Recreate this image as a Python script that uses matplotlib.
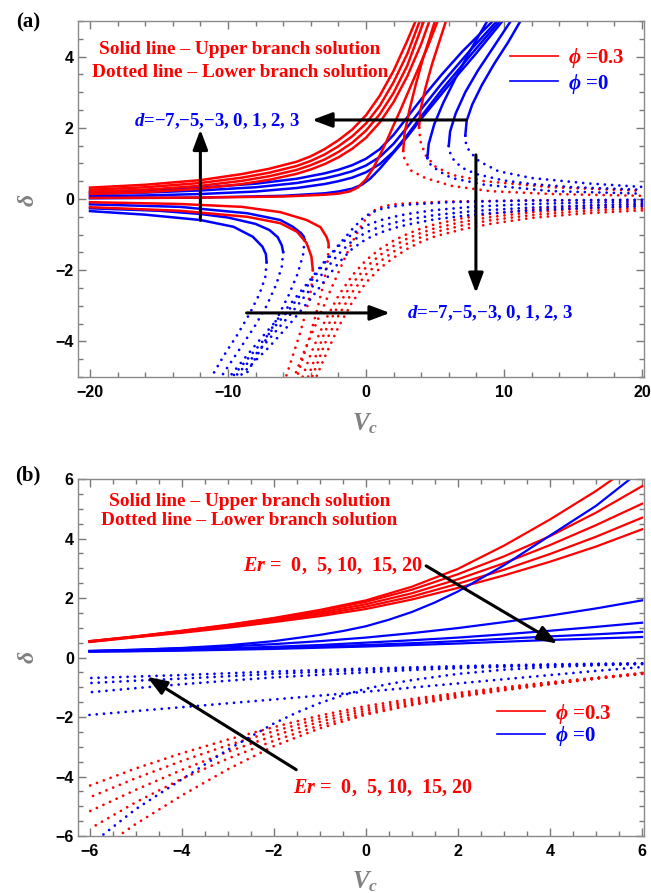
import matplotlib
matplotlib.use('Agg')
import matplotlib.pyplot as plt
from matplotlib.lines import Line2D
from matplotlib.ticker import MultipleLocator

plt.rcParams['font.family'] = ['Liberation Serif', 'DejaVu Serif']
plt.rcParams['mathtext.fontset'] = 'custom'
plt.rcParams['mathtext.rm'] = 'Liberation Serif:bold'
plt.rcParams['mathtext.it'] = 'Liberation Serif:italic:bold'
plt.rcParams['mathtext.bf'] = 'Liberation Serif:bold'

RED = '#ff0000'
BLUE = '#0000ff'

# ---------------- panel (a) data : delta vs Vc ----------------
a_xticks = [-20, -10, 0, 10, 20]
a_xlabels = ['\u221220', '\u221210', '0', '10', '20']
a_yticks = [-4, -2, 0, 2, 4]
a_ylabels = ['\u22124', '\u22122', '0', '2', '4']

# blue (phi=0), no turning point: upper (solid) and lower (dotted)
a_b0_x = [-20, -16, -12, -8, -5, -3, -2, -1, 0, 1, 2, 3, 4, 5.5, 7, 9.2]
a_b0_y = [0.2, 0.25, 0.32, 0.43, 0.57, 0.72, 0.82, 0.95, 1.13, 1.4, 1.8, 2.3, 2.8, 3.5, 4.15, 5.0]
a_b1_x = [-20, -16, -12, -8, -5, -3, -2, -1, 0, 1, 2, 3, 4, 5.5, 7.5, 9.5]
a_b1_y = [0.14, 0.18, 0.24, 0.33, 0.45, 0.58, 0.67, 0.78, 0.94, 1.18, 1.55, 2.02, 2.52, 3.25, 4.15, 5.0]
a_b2_x = [-20, -16, -12, -8, -5, -3, -2, -1, 0, 1, 2, 3, 4, 5.5, 7.6, 9.7]
a_b2_y = [0.08, 0.1, 0.14, 0.21, 0.31, 0.42, 0.5, 0.6, 0.75, 0.98, 1.33, 1.8, 2.32, 3.07, 4.05, 5.0]
a_b3_x = [-20, -12, -6, -3, -2, -1, -0.3, 0.3, 1, 2, 3, 4, 5.8, 7.9, 9.9]
a_b3_y = [0.02, 0.04, 0.09, 0.16, 0.21, 0.29, 0.4, 0.57, 0.85, 1.3, 1.75, 2.25, 3.1, 4.05, 5.0]

a_b0d_x = [20, 16, 12, 8, 5, 3, 2, 1, 0, -1, -2, -3, -4, -5.5, -7, -9.2]
a_b0d_y = [-0.2, -0.25, -0.32, -0.43, -0.57, -0.72, -0.82, -0.95, -1.13, -1.4, -1.8, -2.3, -2.8, -3.5, -4.15, -5.0]
a_b1d_x = [20, 16, 12, 8, 5, 3, 2, 1, 0, -1, -2, -3, -4, -5.5, -7.5, -9.5]
a_b1d_y = [-0.14, -0.18, -0.24, -0.33, -0.45, -0.58, -0.67, -0.78, -0.94, -1.18, -1.55, -2.02, -2.52, -3.25, -4.15, -5.0]
a_b2d_x = [20, 16, 12, 8, 5, 3, 2, 1, 0, -1, -2, -3, -4, -5.5, -7.6, -9.7]
a_b2d_y = [-0.08, -0.1, -0.14, -0.21, -0.31, -0.42, -0.5, -0.6, -0.75, -0.98, -1.33, -1.8, -2.32, -3.07, -4.05, -5.0]
a_b3d_x = [20, 12, 6, 3, 2, 1, 0.3, -0.3, -1, -2, -3, -4, -5.8, -7.9, -9.9]
a_b3d_y = [-0.02, -0.04, -0.09, -0.16, -0.21, -0.29, -0.4, -0.57, -0.85, -1.3, -1.75, -2.25, -3.1, -4.05, -5.0]

# blue, with turning points (left part and right part)
a_bt0_ls_x = [-20, -13.5, -8.6, -6.2, -5.3, -4.7, -4.5, -4.45]
a_bt0_ls_y = [-0.15, -0.22, -0.4, -0.59, -0.78, -0.96, -1.06, -1.15]
a_bt0_ld_x = [-4.45, -4.55, -4.95, -5.6, -6.5, -7.6, -8.8]
a_bt0_ld_y = [-1.15, -1.55, -2.1, -2.7, -3.4, -4.2, -5.0]
a_bt0_rd_x = [4.45, 4.5, 4.7, 5.3, 6.2, 8.6, 13.5, 20]
a_bt0_rd_y = [1.15, 1.06, 0.96, 0.78, 0.59, 0.4, 0.22, 0.15]
a_bt0_rs_x = [4.45, 4.55, 4.95, 5.6, 6.5, 7.6, 8.8]
a_bt0_rs_y = [1.15, 1.55, 2.1, 2.7, 3.4, 4.2, 5.0]

a_bt1_ls_x = [-20, -15, -12, -10, -8, -7, -6.4, -6.1, -6.0]
a_bt1_ls_y = [-0.26, -0.33, -0.42, -0.52, -0.7, -0.87, -1.07, -1.3, -1.49]
a_bt1_ld_x = [-6.0, -6.1, -6.5, -7.2, -8.1, -9.3, -10.5]
a_bt1_ld_y = [-1.49, -1.9, -2.4, -3.0, -3.6, -4.3, -5.0]
a_bt1_rd_x = [6.0, 6.1, 6.4, 7, 8, 10, 12, 15, 20]
a_bt1_rd_y = [1.49, 1.3, 1.07, 0.87, 0.7, 0.52, 0.42, 0.33, 0.26]
a_bt1_rs_x = [6.0, 6.1, 6.5, 7.2, 8.1, 9.3, 10.5]
a_bt1_rs_y = [1.49, 1.9, 2.4, 3.0, 3.6, 4.3, 5.0]

a_bt2_ls_x = [-20, -16, -12, -9.6, -8.2, -7.5, -7.25, -7.2]
a_bt2_ls_y = [-0.34, -0.44, -0.59, -0.78, -1.06, -1.34, -1.55, -1.78]
a_bt2_ld_x = [-7.2, -7.3, -7.7, -8.4, -9.3, -10.3, -11.2]
a_bt2_ld_y = [-1.78, -2.2, -2.65, -3.2, -3.8, -4.4, -5.0]
a_bt2_rd_x = [7.2, 7.25, 7.5, 8.2, 9.6, 12, 16, 20]
a_bt2_rd_y = [1.78, 1.55, 1.34, 1.06, 0.78, 0.59, 0.44, 0.34]
a_bt2_rs_x = [7.2, 7.3, 7.7, 8.4, 9.3, 10.3, 11.2]
a_bt2_rs_y = [1.78, 2.2, 2.65, 3.2, 3.8, 4.4, 5.0]

# red (phi=0.3), no turning point
a_r0_x = [-20, -16, -12, -9, -7, -5, -4, -3, -2, -1, 0, 1, 2, 3, 3.6]
a_r0_y = [0.32, 0.4, 0.53, 0.7, 0.85, 1.05, 1.2, 1.4, 1.65, 1.95, 2.35, 2.9, 3.6, 4.45, 5.0]
a_r1_x = [-20, -16, -12, -9, -7, -5, -4, -3, -2, -1, 0, 1, 2, 3, 3.9]
a_r1_y = [0.26, 0.33, 0.45, 0.6, 0.74, 0.93, 1.07, 1.25, 1.48, 1.76, 2.12, 2.62, 3.28, 4.08, 5.0]
a_r2_x = [-20, -16, -12, -9, -7, -5, -4, -3, -2, -1, 0, 1, 2, 3, 4.2]
a_r2_y = [0.2, 0.26, 0.37, 0.51, 0.64, 0.82, 0.95, 1.11, 1.32, 1.58, 1.92, 2.38, 2.98, 3.75, 5.0]
a_r3_x = [-20, -16, -12, -9, -7, -5, -4, -3, -2, -1, 0, 1, 2, 3, 4, 4.6]
a_r3_y = [0.14, 0.19, 0.29, 0.42, 0.54, 0.71, 0.83, 0.98, 1.17, 1.41, 1.72, 2.15, 2.72, 3.45, 4.35, 5.0]
a_r4_x = [-20, -12, -6, -3, -2, -1.2, -0.6, 0, 0.5, 1, 1.5, 2, 2.5, 3.5, 4.5, 5.2]
a_r4_y = [0.03, 0.04, 0.07, 0.12, 0.15, 0.21, 0.32, 0.55, 0.85, 1.22, 1.63, 2.07, 2.5, 3.4, 4.3, 5.0]

a_r0d_x = [20, 16, 12, 9, 7, 5, 4, 3, 2, 1, 0, -1, -2, -3, -3.6]
a_r0d_y = [-0.32, -0.4, -0.53, -0.7, -0.85, -1.05, -1.2, -1.4, -1.65, -1.95, -2.35, -2.9, -3.6, -4.45, -5.0]
a_r1d_x = [20, 16, 12, 9, 7, 5, 4, 3, 2, 1, 0, -1, -2, -3, -3.9]
a_r1d_y = [-0.26, -0.33, -0.45, -0.6, -0.74, -0.93, -1.07, -1.25, -1.48, -1.76, -2.12, -2.62, -3.28, -4.08, -5.0]
a_r2d_x = [20, 16, 12, 9, 7, 5, 4, 3, 2, 1, 0, -1, -2, -3, -4.2]
a_r2d_y = [-0.2, -0.26, -0.37, -0.51, -0.64, -0.82, -0.95, -1.11, -1.32, -1.58, -1.92, -2.38, -2.98, -3.75, -5.0]
a_r3d_x = [20, 16, 12, 9, 7, 5, 4, 3, 2, 1, 0, -1, -2, -3, -4, -4.6]
a_r3d_y = [-0.14, -0.19, -0.29, -0.42, -0.54, -0.71, -0.83, -0.98, -1.17, -1.41, -1.72, -2.15, -2.72, -3.45, -4.35, -5.0]
a_r4d_x = [20, 12, 6, 3, 2, 1.2, 0.6, 0, -0.5, -1, -1.5, -2, -2.5, -3.5, -4.5, -5.2]
a_r4d_y = [-0.03, -0.04, -0.07, -0.12, -0.15, -0.21, -0.32, -0.55, -0.85, -1.22, -1.63, -2.07, -2.5, -3.4, -4.3, -5.0]

# red, with turning points
a_rt0_ls_x = [-20, -13.5, -9, -6.2, -4.3, -3.3, -2.85, -2.72, -2.7]
a_rt0_ls_y = [-0.09, -0.14, -0.22, -0.37, -0.59, -0.79, -1.07, -1.22, -1.35]
a_rt0_ld_x = [-2.7, -2.8, -3.15, -3.6, -4.1, -4.6, -5.0]
a_rt0_ld_y = [-1.35, -1.85, -2.5, -3.2, -3.9, -4.5, -5.0]
a_rt0_rd_x = [2.7, 2.72, 2.85, 3.3, 4.3, 6.2, 9, 13.5, 20]
a_rt0_rd_y = [1.35, 1.22, 1.07, 0.79, 0.59, 0.37, 0.22, 0.14, 0.09]
a_rt0_rs_x = [2.7, 2.8, 3.15, 3.6, 4.1, 4.6, 5.0]
a_rt0_rs_y = [1.35, 1.85, 2.5, 3.2, 3.9, 4.5, 5.0]

a_rt1_ls_x = [-20, -13.5, -8.6, -6.2, -5.0, -4.3, -3.95, -3.85]
a_rt1_ls_y = [-0.23, -0.33, -0.5, -0.68, -0.92, -1.24, -1.62, -2.0]
a_rt1_ld_x = [-3.85, -3.95, -4.3, -4.8, -5.3, -5.8]
a_rt1_ld_y = [-2.0, -2.5, -3.1, -3.8, -4.4, -5.0]
a_rt1_rd_x = [3.85, 3.95, 4.3, 5.0, 6.2, 8.6, 13.5, 20]
a_rt1_rd_y = [2.0, 1.62, 1.24, 0.92, 0.68, 0.5, 0.33, 0.23]
a_rt1_rs_x = [3.85, 3.95, 4.3, 4.8, 5.3, 5.8]
a_rt1_rs_y = [2.0, 2.5, 3.1, 3.8, 4.4, 5.0]

# ---------------- panel (b) data ----------------
b_xticks = [-6, -4, -2, 0, 2, 4, 6]
b_xlabels = ['\u22126', '\u22124', '\u22122', '0', '2', '4', '6']
b_yticks = [-6, -4, -2, 0, 2, 4, 6]
b_ylabels = ['\u22126', '\u22124', '\u22122', '0', '2', '4', '6']

b_x = [-6, -5, -4, -3, -2, -1, 0, 1, 2, 3, 4, 5, 6]
b_xm = [6, 5, 4, 3, 2, 1, 0, -1, -2, -3, -4, -5, -6]

# red solid, Er = 0, 5, 10, 15, 20
b_r0_x = [-6, -5, -4, -3, -2, -1, 0, 1, 2, 3, 4, 5, 5.37]
b_r0_y = [0.55, 0.71, 0.9, 1.1, 1.33, 1.6, 1.92, 2.38, 2.98, 3.76, 4.64, 5.6, 6.0]
b_r1_y = [0.55, 0.71, 0.89, 1.09, 1.31, 1.57, 1.87, 2.28, 2.8, 3.4, 4.08, 4.87, 5.76]
b_r2_y = [0.54, 0.7, 0.87, 1.06, 1.27, 1.51, 1.79, 2.16, 2.63, 3.17, 3.78, 4.45, 5.17]
b_r3_y = [0.53, 0.69, 0.85, 1.03, 1.23, 1.45, 1.71, 2.05, 2.48, 2.95, 3.48, 4.06, 4.7]
b_r4_y = [0.52, 0.68, 0.83, 1.0, 1.19, 1.39, 1.63, 1.95, 2.34, 2.76, 3.22, 3.73, 4.31]

# red dotted
b_r0d_x = [6, 5, 4, 3, 2, 1, 0, -1, -2, -3, -4, -5, -5.37]
b_r0d_y = [-0.55, -0.71, -0.9, -1.1, -1.33, -1.6, -1.92, -2.38, -2.98, -3.76, -4.64, -5.6, -6.0]
b_r1d_y = [-0.55, -0.71, -0.89, -1.09, -1.31, -1.57, -1.87, -2.28, -2.8, -3.4, -4.08, -4.87, -5.76]
b_r2d_y = [-0.54, -0.7, -0.87, -1.06, -1.27, -1.51, -1.79, -2.16, -2.63, -3.17, -3.78, -4.45, -5.17]
b_r3d_y = [-0.53, -0.69, -0.85, -1.03, -1.23, -1.45, -1.71, -2.05, -2.48, -2.95, -3.48, -4.06, -4.7]
b_r4d_y = [-0.52, -0.68, -0.83, -1.0, -1.19, -1.39, -1.63, -1.95, -2.34, -2.76, -3.22, -3.73, -4.31]

# blue solid
b_b0_x = [-6, -5, -4, -3, -2, -1, -0.5, 0, 0.5, 1, 1.5, 2, 3, 4, 5, 5.74]
b_b0_y = [0.22, 0.26, 0.32, 0.41, 0.55, 0.76, 0.89, 1.05, 1.27, 1.53, 1.85, 2.22, 3.1, 4.1, 5.1, 6.0]
b_b1_y = [0.22, 0.26, 0.31, 0.37, 0.45, 0.55, 0.67, 0.82, 0.99, 1.19, 1.41, 1.65, 1.92]
b_b2_y = [0.21, 0.24, 0.27, 0.31, 0.36, 0.42, 0.5, 0.58, 0.67, 0.78, 0.9, 1.03, 1.17]
b_b3_y = [0.2, 0.22, 0.25, 0.28, 0.32, 0.37, 0.42, 0.48, 0.55, 0.63, 0.71, 0.78, 0.86]
b_b4_y = [0.2, 0.21, 0.23, 0.26, 0.29, 0.33, 0.37, 0.42, 0.47, 0.53, 0.59, 0.64, 0.69]

# blue dotted
b_b0d_x = [6, 5, 4, 3, 2, 1, 0.5, 0, -0.5, -1, -1.5, -2, -3, -4, -5, -5.74]
b_b0d_y = [-0.22, -0.26, -0.32, -0.41, -0.55, -0.76, -0.89, -1.05, -1.27, -1.53, -1.85, -2.22, -3.1, -4.1, -5.1, -6.0]
b_b1d_y = [-1.93, -1.8, -1.67, -1.54, -1.41, -1.28, -1.15, -1.01, -0.87, -0.73, -0.59, -0.45, -0.32]
b_b2d_y = [-0.21, -0.24, -0.27, -0.31, -0.36, -0.42, -0.5, -0.58, -0.67, -0.78, -0.9, -1.03, -1.17]
b_b3d_y = [-0.2, -0.22, -0.25, -0.28, -0.32, -0.37, -0.42, -0.48, -0.55, -0.63, -0.71, -0.78, -0.86]
b_b4d_y = [-0.2, -0.21, -0.23, -0.26, -0.29, -0.33, -0.37, -0.42, -0.47, -0.53, -0.59, -0.64, -0.69]

# ---------------- drawing ----------------
DOT = dict(linestyle=(0, (0.01, 2.6)), dash_capstyle='round', lw=2.0)

fig = plt.figure(figsize=(6.51, 8.93), dpi=100)
ax1 = fig.add_axes([0.1198, 0.5778, 0.8694, 0.3987])
ax2 = fig.add_axes([0.1198, 0.0638, 0.8694, 0.3998])

a_solid_blue = [(a_b0_x, a_b0_y), (a_b1_x, a_b1_y), (a_b2_x, a_b2_y), (a_b3_x, a_b3_y),
                (a_bt0_ls_x, a_bt0_ls_y), (a_bt0_rs_x, a_bt0_rs_y),
                (a_bt1_ls_x, a_bt1_ls_y), (a_bt1_rs_x, a_bt1_rs_y),
                (a_bt2_ls_x, a_bt2_ls_y), (a_bt2_rs_x, a_bt2_rs_y)]
a_dot_blue = [(a_b0d_x, a_b0d_y), (a_b1d_x, a_b1d_y), (a_b2d_x, a_b2d_y), (a_b3d_x, a_b3d_y),
              (a_bt0_ld_x, a_bt0_ld_y), (a_bt0_rd_x, a_bt0_rd_y),
              (a_bt1_ld_x, a_bt1_ld_y), (a_bt1_rd_x, a_bt1_rd_y),
              (a_bt2_ld_x, a_bt2_ld_y), (a_bt2_rd_x, a_bt2_rd_y)]
a_solid_red = [(a_r0_x, a_r0_y), (a_r1_x, a_r1_y), (a_r2_x, a_r2_y), (a_r3_x, a_r3_y),
               (a_r4_x, a_r4_y), (a_rt0_ls_x, a_rt0_ls_y), (a_rt0_rs_x, a_rt0_rs_y),
               (a_rt1_ls_x, a_rt1_ls_y), (a_rt1_rs_x, a_rt1_rs_y)]
a_dot_red = [(a_r0d_x, a_r0d_y), (a_r1d_x, a_r1d_y), (a_r2d_x, a_r2d_y), (a_r3d_x, a_r3d_y),
             (a_r4d_x, a_r4d_y), (a_rt0_ld_x, a_rt0_ld_y), (a_rt0_rd_x, a_rt0_rd_y),
             (a_rt1_ld_x, a_rt1_ld_y), (a_rt1_rd_x, a_rt1_rd_y)]

for xs, ys in a_dot_red:
    ax1.plot(xs, ys, color=RED, **DOT)
for xs, ys in a_dot_blue:
    ax1.plot(xs, ys, color=BLUE, **DOT)
for xs, ys in a_solid_blue:
    ax1.plot(xs, ys, color=BLUE, lw=1.8, solid_joinstyle='round')
for xs, ys in a_solid_red:
    ax1.plot(xs, ys, color=RED, lw=1.8, solid_joinstyle='round')

b_solid_red = [(b_r0_x, b_r0_y), (b_x, b_r1_y), (b_x, b_r2_y), (b_x, b_r3_y), (b_x, b_r4_y)]
b_dot_red = [(b_r0d_x, b_r0d_y), (b_xm, b_r1d_y), (b_xm, b_r2d_y), (b_xm, b_r3d_y), (b_xm, b_r4d_y)]
b_solid_blue = [(b_b0_x, b_b0_y), (b_x, b_b1_y), (b_x, b_b2_y), (b_x, b_b3_y), (b_x, b_b4_y)]
b_dot_blue = [(b_b0d_x, b_b0d_y), (b_x, b_b1d_y), (b_xm, b_b2d_y), (b_xm, b_b3d_y), (b_xm, b_b4d_y)]

for xs, ys in b_dot_red:
    ax2.plot(xs, ys, color=RED, **DOT)
for xs, ys in b_dot_blue:
    ax2.plot(xs, ys, color=BLUE, **DOT)
for xs, ys in b_solid_red:
    ax2.plot(xs, ys, color=RED, lw=1.6, solid_joinstyle='round')
for xs, ys in b_solid_blue:
    ax2.plot(xs, ys, color=BLUE, lw=1.6, solid_joinstyle='round')


def frame(ax, xt, xl, yt, yl, xminor, yminor):
    ax.set_xticks(xt)
    ax.set_xticklabels(xl, fontfamily='Liberation Sans', fontweight='bold', fontsize=11.5)
    ax.set_yticks(yt)
    ax.set_yticklabels(yl, fontfamily='Liberation Sans', fontweight='bold', fontsize=11.5)
    ax.xaxis.set_minor_locator(MultipleLocator(xminor))
    ax.yaxis.set_minor_locator(MultipleLocator(yminor))
    ax.tick_params(which='both', direction='in', top=True, right=True, color='#7a7a7a', width=1)
    ax.tick_params(which='major', length=6)
    ax.tick_params(which='minor', length=3.5)
    ax.tick_params(axis='x', pad=6)
    ax.tick_params(axis='y', pad=3)
    for s in ax.spines.values():
        s.set_color('#8a8a8a')
        s.set_linewidth(1.0)


frame(ax1, a_xticks, a_xlabels, a_yticks, a_ylabels, 2, 0.5)
ax1.set_xlim(-20.87, 20.15)
ax1.set_ylim(-5, 5)
frame(ax2, b_xticks, b_xlabels, b_yticks, b_ylabels, 0.5, 0.5)
ax2.set_xlim(-6.25, 6.04)
ax2.set_ylim(-6, 6)

ARW = dict(arrowstyle='-|>,head_length=0.8,head_width=0.3', color='black', lw=2.2,
           mutation_scale=15, shrinkA=0, shrinkB=0)

for ax, y1, y2, xc in [(ax1, 0.919, 0.854, 0.286), (ax2, 0.937, 0.884, 0.303)]:
    ax.text(xc, y1, 'Solid line \u2013 Upper branch solution', transform=ax.transAxes,
            color=RED, fontsize=13.9, fontweight='bold', ha='center', va='center')
    ax.text(xc, y2, 'Dotted line \u2013 Lower branch solution', transform=ax.transAxes,
            color=RED, fontsize=13.9, fontweight='bold', ha='center', va='center')

# panel (a) annotations
d_text = '$d$=\u22127,\u22125,\u22123, 0, 1, 2, 3'
ax1.text(0.246, 0.719, d_text, transform=ax1.transAxes, color=BLUE, fontsize=13.5,
         fontweight='bold', ha='center', va='center')
ax1.text(0.728, 0.180, d_text, transform=ax1.transAxes, color=BLUE, fontsize=13.5,
         fontweight='bold', ha='center', va='center')
ax1.annotate('', xy=(-3.9, 2.22), xytext=(7.25, 2.22), arrowprops=ARW)
ax1.annotate('', xy=(-12, 1.95), xytext=(-12, -0.6), arrowprops=ARW)
ax1.annotate('', xy=(7.97, -2.64), xytext=(7.97, 1.24), arrowprops=ARW)
ax1.annotate('', xy=(1.74, -3.2), xytext=(-8.65, -3.2), arrowprops=ARW)

# panel (b) annotations
er_text = '$Er$ =  0,  5, 10,  15, 20'
ax2.text(0.4505, 0.757, er_text, transform=ax2.transAxes, color=RED, fontsize=14.5,
         fontweight='bold', ha='center', va='center')
ax2.text(0.539, 0.137, er_text, transform=ax2.transAxes, color=RED, fontsize=14.5,
         fontweight='bold', ha='center', va='center')
ax2.annotate('', xy=(4.16, 0.47), xytext=(1.31, 3.08), arrowprops=ARW)
ax2.annotate('', xy=(-4.75, -0.65), xytext=(-1.51, -3.77), arrowprops=ARW)

# legends
handles = [Line2D([], [], color=RED, lw=1.2), Line2D([], [], color=BLUE, lw=1.2)]
labels = [r'$\phi$ =0.3', r'$\phi$ =0']
for ax, anchor, sp in [(ax1, (0.763, 0.93), 0.08), (ax2, (0.740, 0.376), -0.08)]:
    ax.legend(handles, labels, loc='upper left', bbox_to_anchor=anchor, frameon=False,
              borderpad=0, borderaxespad=0, handlelength=2.3, handletextpad=0.5,
              labelspacing=sp, labelcolor=[RED, BLUE],
              prop={'family': 'Liberation Serif', 'weight': 'bold', 'size': 15})

# axis labels
for ax, vy, dy in [(ax1, -0.149, 0.497), (ax2, -0.146, 0.502)]:
    ax.text(0.508, vy, r'$V_c$', transform=ax.transAxes, color='#808080', fontsize=18,
            ha='center', va='baseline')
    ax.text(-0.088, dy, r'$\delta$', transform=ax.transAxes, color='#808080', fontsize=17,
            rotation=90, ha='center', va='center')

fig.text(0.043, 0.975, '(a)', fontsize=15, fontweight='bold', ha='center', va='center')
fig.text(0.043, 0.467, '(b)', fontsize=15, fontweight='bold', ha='center', va='center')

fig.savefig('out.png', dpi=100)
